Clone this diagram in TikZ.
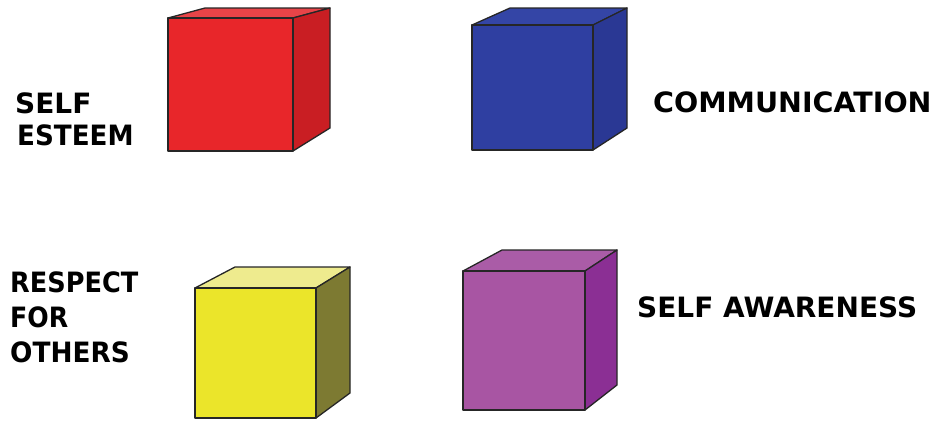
\documentclass[tikz,border=0pt]{standalone}
\usepackage{fontspec}
\setmainfont{DejaVu Sans}
\begin{document}
\begin{tikzpicture}[x=1pt,y=-1pt,
  edge/.style={draw=black!85,line width=1.3pt,line join=round},
  lbl/.style={anchor=base west,inner sep=0pt,font=\fontsize{28}{28}\selectfont\bfseries}]
\definecolor{redF}{HTML}{E8262A}\definecolor{redT}{HTML}{E84448}\definecolor{redR}{HTML}{C91E23}
\definecolor{bluF}{HTML}{2F3FA1}\definecolor{bluT}{HTML}{3445A6}\definecolor{bluR}{HTML}{2A3894}
\definecolor{yelF}{HTML}{EBE52A}\definecolor{yelT}{HTML}{EEEB8E}\definecolor{yelR}{HTML}{7D7A32}
\definecolor{purF}{HTML}{A855A3}\definecolor{purT}{HTML}{AA5CA7}\definecolor{purR}{HTML}{8B2F94}
\useasboundingbox (0,0) rectangle (935,421);
% red cube
\fill[redT,edge] (168,18) -- (205,8) -- (330,8) -- (293,18) -- cycle;
\fill[redR,edge] (293,18) -- (330,8) -- (330,128) -- (293,151) -- cycle;
\fill[redF,edge] (168,18) rectangle (293,151);
% blue cube
\fill[bluT,edge] (472,25) -- (510,8) -- (627,8) -- (593,25) -- cycle;
\fill[bluR,edge] (593,25) -- (627,8) -- (627,128) -- (593,150) -- cycle;
\fill[bluF,edge] (472,25) rectangle (593,150);
% yellow cube
\fill[yelT,edge] (195,288) -- (235,267) -- (350,267) -- (316,288) -- cycle;
\fill[yelR,edge] (316,288) -- (350,267) -- (350,393) -- (316,418) -- cycle;
\fill[yelF,edge] (195,288) rectangle (316,418);
% purple cube
\fill[purT,edge] (463,271) -- (502,250) -- (617,250) -- (585,271) -- cycle;
\fill[purR,edge] (585,271) -- (617,250) -- (617,385) -- (585,410) -- cycle;
\fill[purF,edge] (463,271) rectangle (585,410);
% labels
\node[lbl] (se1) at (15,113) {SELF};
\node[lbl] (se2) at (17,145) {\scalebox{0.935}[1]{ESTEEM}};
\node[lbl] (com) at (653,112) {\scalebox{1.018}[1]{COMMUNICATION}};
\node[lbl] (rf1) at (10,292) {\scalebox{0.914}[1]{RESPECT}};
\node[lbl] (rf2) at (10,327) {\scalebox{0.9}[1]{FOR}};
\node[lbl] (rf3) at (10,362) {\scalebox{0.94}[1]{OTHERS}};
\node[lbl] (saw) at (637,317) {SELF AWARENESS};
\end{tikzpicture}
\end{document}
